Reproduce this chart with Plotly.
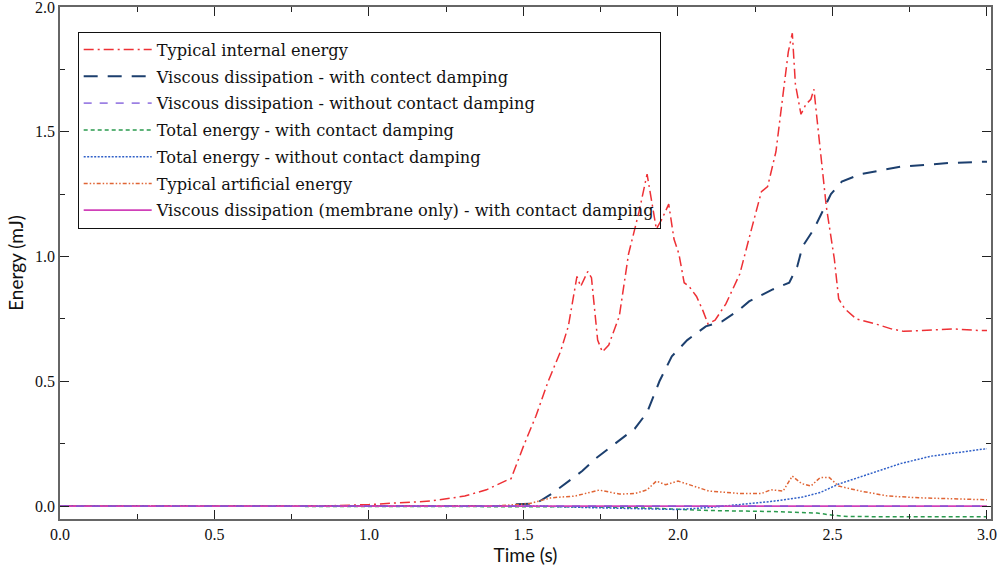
import plotly.graph_objects as go

# Typical internal energy
t_internal = [0, 0.5, 0.85, 1.0, 1.1, 1.2, 1.31, 1.38, 1.44, 1.46, 1.50, 1.54, 1.58, 1.62,
              1.645, 1.673, 1.685, 1.708, 1.72, 1.74, 1.755, 1.776, 1.786, 1.81, 1.84, 1.874,
              1.90, 1.917, 1.93, 1.948, 1.97, 1.987, 2.003, 2.02, 2.036, 2.06, 2.08, 2.097,
              2.12, 2.155, 2.20, 2.24, 2.27, 2.29, 2.317, 2.344, 2.357, 2.37, 2.38, 2.398,
              2.414, 2.43, 2.44, 2.45, 2.48, 2.506, 2.52, 2.54, 2.577, 2.65, 2.69, 2.73,
              2.80, 2.89, 2.98, 3.0]
e_internal = [0, 0, 0, 0.006, 0.012, 0.02, 0.04, 0.065, 0.10, 0.11, 0.24, 0.36, 0.50, 0.62,
              0.72, 0.92, 0.88, 0.94, 0.915, 0.665, 0.618, 0.645, 0.68, 0.76, 1.01, 1.18,
              1.33, 1.20, 1.11, 1.15, 1.21, 1.07, 1.01, 0.895, 0.88, 0.84, 0.785, 0.73,
              0.745, 0.81, 0.93, 1.12, 1.26, 1.28, 1.42, 1.69, 1.82, 1.895, 1.69, 1.57,
              1.61, 1.63, 1.67, 1.55, 1.20, 0.99, 0.83, 0.79, 0.75, 0.726, 0.71, 0.70,
              0.705, 0.71, 0.703, 0.703]

# Viscous dissipation - with contact damping
t_visc_cd = [0, 1.45, 1.473, 1.54, 1.59, 1.635, 1.69, 1.733, 1.786, 1.81, 1.86, 1.9, 1.94,
             1.98, 2.03, 2.09, 2.143, 2.198, 2.23, 2.305, 2.36, 2.386, 2.403, 2.44, 2.468,
             2.495, 2.53, 2.59, 2.72, 2.88, 3.0]
e_visc_cd = [0, 0, 0.007, 0.01, 0.048, 0.088, 0.14, 0.19, 0.24, 0.26, 0.31, 0.375, 0.50,
             0.60, 0.665, 0.72, 0.74, 0.786, 0.82, 0.867, 0.895, 0.96, 1.04, 1.11, 1.18,
             1.25, 1.30, 1.33, 1.36, 1.375, 1.38]

# Viscous dissipation - without contact damping
t_visc_nocd = [0, 0.5, 1.0, 1.5, 2.0, 2.5, 3.0]
e_visc_nocd = [0, 0, 0, 0, 0, 0, 0]

# Total energy - with contact damping
t_total_cd = [0, 1.55, 1.7, 1.9, 2.0, 2.1, 2.3, 2.45, 2.5, 2.55, 2.7, 3.0]
e_total_cd = [0, 0, -0.003, -0.008, -0.012, -0.018, -0.022, -0.028, -0.037, -0.042,
              -0.043, -0.043]

# Total energy - without contact damping
t_total_nocd = [0, 1.55, 1.7, 1.85, 2.0, 2.1, 2.2, 2.3, 2.4, 2.46, 2.52, 2.62, 2.72,
                2.82, 2.91, 3.0]
e_total_nocd = [0, 0, -0.006, -0.01, -0.014, -0.006, 0.005, 0.018, 0.035, 0.054, 0.088,
                0.13, 0.17, 0.20, 0.215, 0.23]

# Typical artificial energy
t_artificial = [0, 1.4, 1.47, 1.52, 1.59, 1.667, 1.745, 1.81, 1.86, 1.90, 1.93, 1.96,
                2.0, 2.05, 2.1, 2.2, 2.27, 2.3, 2.34, 2.37, 2.4, 2.43, 2.46, 2.49, 2.52,
                2.59, 2.68, 2.78, 2.91, 3.0]
e_artificial = [0, 0, 0.005, 0.01, 0.033, 0.04, 0.064, 0.048, 0.05, 0.065, 0.1, 0.085,
                0.1, 0.08, 0.06, 0.05, 0.05, 0.065, 0.06, 0.12, 0.09, 0.08, 0.114, 0.114,
                0.08, 0.06, 0.04, 0.033, 0.028, 0.025]

# Viscous dissipation (membrane only) - with contact damping
t_visc_membrane = [0, 0.5, 1.0, 1.5, 2.0, 2.5, 3.0]
e_visc_membrane = [0, 0, 0, 0, 0, 0, 0]

x_ticks = [0.0, 0.5, 1.0, 1.5, 2.0, 2.5, 3.0]
y_ticks = [0.0, 0.5, 1.0, 1.5, 2.0]

SERIF = "Liberation Serif, DejaVu Serif, serif"
LEGEND_SERIF = "DejaVu Serif, Liberation Serif, serif"
SANS = "Lato, Open Sans, sans-serif"

series = [
    # name, t, e, color, dash, width, rank
    ("Typical internal energy", t_internal, e_internal, "#ee3035",
     "10px,4px,2px,4px", 1.5, 1),
    ("Viscous dissipation - with contect damping", t_visc_cd, e_visc_cd, "#1c3f6e",
     "14px,10px", 2.0, 2),
    ("Total energy - with contact damping", t_total_cd, e_total_cd, "#2a9a4e",
     "4px,3px", 1.5, 4),
    ("Total energy - without contact damping", t_total_nocd, e_total_nocd, "#3060c8",
     "2px,1.5px", 1.5, 5),
    ("Typical artificial energy", t_artificial, e_artificial, "#e06535",
     "4px,2px,1.5px,2px,1.5px,2px", 1.5, 6),
    ("Viscous dissipation (membrane only) - with contact damping", t_visc_membrane,
     e_visc_membrane, "#d040b8", "solid", 1.8, 7),
    ("Viscous dissipation - without contact damping", t_visc_nocd, e_visc_nocd, "#7b55d9",
     "8px,8px", 1.8, 3),
]

fig = go.Figure()
for name, t, e, color, dash, width, rank in series:
    fig.add_trace(go.Scatter(
        x=t, y=e, mode="lines", name=name, legendrank=rank, legendgroup=f"g{rank}",
        line=dict(color=color, dash=dash, width=width),
        opacity=0.75 if rank == 3 else 1.0,
    ))

axis_common = dict(
    showgrid=False, zeroline=False, showline=True, mirror="allticks",
    linecolor="#666666", linewidth=1.5, automargin=False, ticklabeloverflow="allow",
    ticks="inside", ticklen=9, tickwidth=1.2, tickcolor="#222222",
    tickfont=dict(family=SERIF, size=16, color="#111111"),
    minor=dict(ticks="inside", ticklen=5, tickwidth=1.2, tickcolor="#222222"),
)

fig.update_layout(
    width=1006, height=572,
    margin=dict(l=60, r=15, t=7, b=53),
    paper_bgcolor="white", plot_bgcolor="white",
    showlegend=True,
    legend=dict(
        x=0.019, y=0.952, xanchor="left", yanchor="top",
        bgcolor="rgba(255,255,255,0)", bordercolor="#111111", borderwidth=1,
        font=dict(family=LEGEND_SERIF, size=16.2, color="#111111"),
        traceorder="grouped", tracegroupgap=2.7, itemwidth=68,
    ),
    xaxis=dict(
        axis_common, range=[0, 3.013], tickvals=x_ticks,
        ticktext=[f"{v:.1f}" for v in x_ticks],
        title=dict(text="Time (s)", font=dict(family=SANS, size=19, color="#111111"),
                   standoff=3),
    ),
    yaxis=dict(
        axis_common, range=[-0.052, 2.0], tickvals=y_ticks,
        ticktext=[f"{v:.1f}" for v in y_ticks],
        title=dict(text="Energy (mJ)", font=dict(family=SANS, size=19, color="#111111"),
                   standoff=6),
    ),
)
fig.update_xaxes(minor=dict(tickvals=[0.25, 0.75, 1.25, 1.75, 2.25, 2.75]))
fig.update_yaxes(minor=dict(tickvals=[0.25, 0.75, 1.25, 1.75]))

fig.write_html("out.html")
